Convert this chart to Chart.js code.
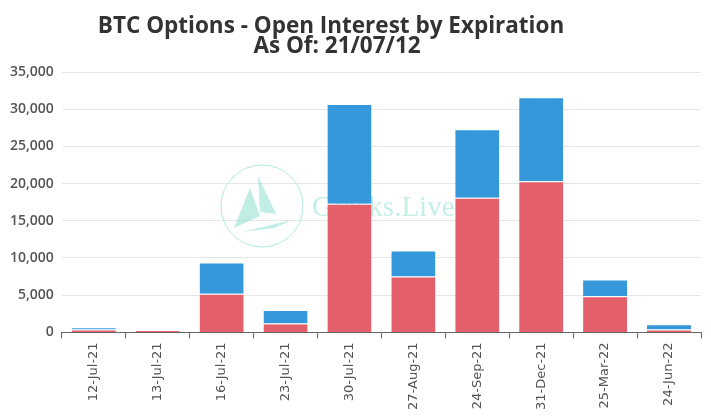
<!DOCTYPE html>
<html>
<head>
<meta charset="utf-8">
<script src="https://cdn.jsdelivr.net/npm/chart.js@4/dist/chart.umd.min.js"></script>
<style>
html,body{margin:0;padding:0;background:#fff;}
#wrap{width:711px;height:420px;position:relative;}
</style>
</head>
<body>
<div id="wrap"><canvas id="c" width="711" height="420"></canvas></div>
<script>
const categories = ["12-Jul-21","13-Jul-21","16-Jul-21","23-Jul-21","30-Jul-21","27-Aug-21","24-Sep-21","31-Dec-21","25-Mar-22","24-Jun-22"];
const redValues  = [400, 280, 5200, 1200, 17300, 7500, 18100, 20300, 4850, 400];
const blueValues = [300, 40, 4200, 1800, 13400, 3500, 9200, 11300, 2250, 700];
const yTicks = [0, 5000, 10000, 15000, 20000, 25000, 30000, 35000];
const titleLines = ["BTC Options - Open Interest by Expiration", "As Of: 21/07/12"];

const watermark = {
  id: 'watermark',
  beforeDatasetsDraw(chart) {
    const ctx = chart.ctx;
    ctx.save();
    const cx = 262, cy = 206, r = 41;
    ctx.strokeStyle = 'rgba(150,225,210,0.7)';
    ctx.lineWidth = 1;
    ctx.beginPath(); ctx.arc(cx, cy, r, 0, Math.PI * 2); ctx.stroke();
    ctx.fillStyle = 'rgba(150,225,210,0.6)';
    ctx.beginPath(); ctx.moveTo(cx - 4, cy - 30); ctx.lineTo(cx + 14, cy + 8); ctx.lineTo(cx - 2, cy + 6); ctx.closePath(); ctx.fill();
    ctx.beginPath(); ctx.moveTo(cx - 12, cy - 18); ctx.lineTo(cx - 2, cy + 10); ctx.lineTo(cx - 28, cy + 22); ctx.closePath(); ctx.fill();
    ctx.beginPath(); ctx.moveTo(cx - 20, cy + 26); ctx.lineTo(cx + 30, cy + 14); ctx.lineTo(cx + 12, cy + 22); ctx.closePath(); ctx.fill();
    ctx.font = '29px "Liberation Serif", serif';
    ctx.fillStyle = 'rgba(150,225,210,0.55)';
    ctx.textBaseline = 'middle';
    ctx.fillText('Greeks.Live', cx + 50, cy + 2);
    ctx.restore();
  }
};

const titleDraw = {
  id: 'titleDraw',
  afterDraw(chart) {
    const ctx = chart.ctx;
    ctx.save();
    ctx.fillStyle = '#333';
    ctx.font = 'bold 22.5px "Open Sans", sans-serif';
    ctx.textAlign = 'center';
    ctx.textBaseline = 'alphabetic';
    ctx.fillText(titleLines[0], 331, 33);
    ctx.fillText(titleLines[1], 337, 53);
    ctx.restore();
  }
};

new Chart(document.getElementById('c'), {
  type: 'bar',
  data: {
    labels: categories,
    datasets: [
      { label: 'Red', data: redValues, backgroundColor: '#E3606B', borderColor: 'rgba(255,255,255,0.5)', borderWidth: {top:1,left:0,right:0,bottom:0}, borderSkipped: false },
      { label: 'Blue', data: blueValues, backgroundColor: '#3498DB', borderColor: 'rgba(255,255,255,0.5)', borderWidth: {top:1,left:0,right:0,bottom:0}, borderSkipped: false }
    ]
  },
  plugins: [watermark, titleDraw],
  options: {
    responsive: false,
    animation: false,
    devicePixelRatio: 1,
    layout: { padding: { left: 2, right: 10, top: 72, bottom: 6 } },
    plugins: {
      legend: { display: false },
      tooltip: { enabled: false },
      title: { display: false }
    },
    datasets: { bar: { categoryPercentage: 1.0, barPercentage: 0.69 } },
    scales: {
      x: {
        stacked: true,
        grid: { display: true, drawOnChartArea: false, offset: true, color: '#666', tickLength: 6, lineWidth: 1 },
        border: { display: true, color: '#666', width: 1 },
        ticks: { color: '#555', maxRotation: 90, minRotation: 90, font: { family: '"DejaVu Sans", sans-serif', size: 13 }, padding: 4 }
      },
      y: {
        stacked: true,
        min: 0, max: 35000,
        afterBuildTicks(axis) { axis.ticks = yTicks.map(v => ({ value: v })); },
        grid: { color: '#e6e6e6', drawTicks: false },
        border: { display: false },
        ticks: {
          color: '#555', padding: 8,
          font: { family: '"Open Sans", sans-serif', size: 14, weight: '600' },
          callback: v => v.toLocaleString('en-US')
        }
      }
    }
  }
});
</script>
</body>
</html>
